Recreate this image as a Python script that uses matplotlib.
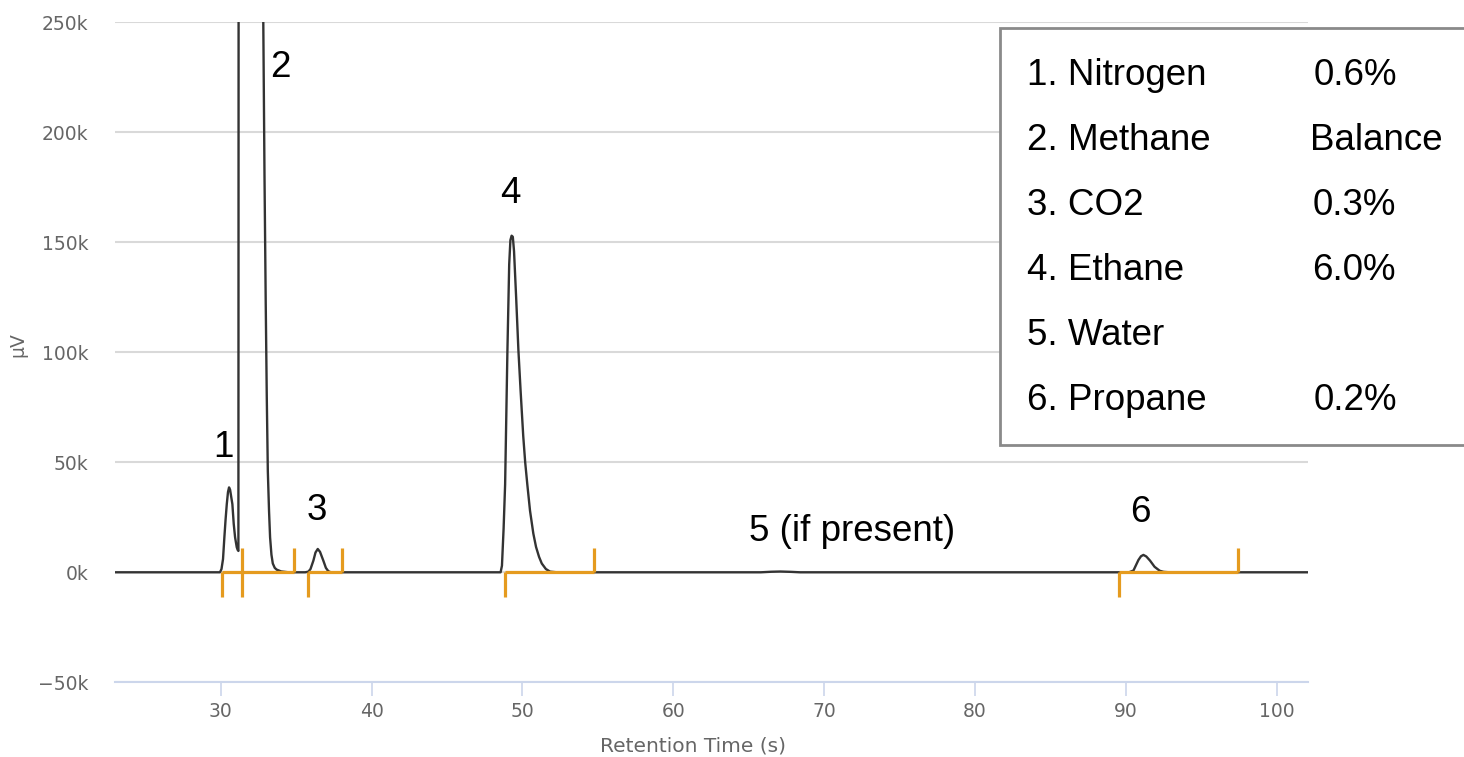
import matplotlib
matplotlib.use("Agg")
import matplotlib.pyplot as plt
from matplotlib.patches import Rectangle
from matplotlib.ticker import FuncFormatter

# Chromatogram trace (time in s, signal in µV)
trace_t = [23.0, 29.95, 30.05, 30.15, 30.24, 30.32, 30.40, 30.48, 30.55, 30.62,
           30.70, 30.77, 30.86, 30.95, 31.06, 31.12, 31.17, 31.19,
           32.70, 32.82, 32.90, 32.98, 33.05, 33.12, 33.20, 33.27, 33.36, 33.45,
           33.58, 33.71, 34.00, 34.50,
           35.60, 35.81, 35.95, 36.14, 36.28, 36.43, 36.58, 36.80, 36.97, 37.13, 37.30,
           48.55, 48.64, 48.75, 48.85, 49.00, 49.12, 49.20, 49.28, 49.36, 49.44,
           49.58, 49.73, 49.88, 50.05, 50.18, 50.32, 50.50, 50.72, 50.90, 51.10,
           51.28, 51.55, 51.83, 52.30,
           65.80, 66.50, 67.10, 67.80, 68.40,
           90.20, 90.50, 90.83, 91.00, 91.16, 91.35, 91.60, 91.90, 92.24, 92.50, 92.90,
           102.1]
trace_uv = [0, 0, 1500, 6000, 15900, 24000, 31000, 36500, 38600, 37500,
            34000, 31000, 22000, 15900, 11400, 10200, 9700, 400000,
            400000, 250000, 180000, 123000, 80000, 46000, 28000, 15900, 8000, 4000,
            2000, 1200, 400, 0,
            0, 300, 1500, 5300, 9000, 10600, 9300, 5300, 2000, 500, 0,
            0, 3000, 20000, 40000, 100000, 140000, 151000, 153000, 152500, 146000,
            125000, 101000, 82000, 62000, 50000, 40000, 28000, 17600, 11500, 7000,
            4000, 1500, 300, 0,
            0, 250, 350, 200, 0,
            0, 800, 5600, 7300, 7900, 7200, 5300, 2500, 700, 200, 0,
            0]

# Integration events (orange markers)
peak_start = [30.07, 31.39, 35.81, 48.85, 89.52]
peak_end = [31.39, 34.86, 38.02, 54.76, 97.44]
event_tick = 11000

# Peak labels
label_text = ["1", "2", "3", "4", "5 (if present)", "6"]
label_t = [30.17, 33.93, 36.36, 49.18, 71.85, 90.98]
label_uv = [52500, 225300, 23800, 167700, 14200, 23000]

# Composition table
comp_names = ["1. Nitrogen", "2. Methane", "3. CO2", "4. Ethane", "5. Water", "6. Propane"]
comp_values = ["0.6%", "Balance", "0.3%", "6.0%", "", "0.2%"]
comp_value_x = [1314, 1310, 1313, 1312, 1312, 1314]

W, H = 1464, 757
fig = plt.figure(figsize=(W / 100, H / 100), dpi=100)
ax = fig.add_axes([115 / W, 1 - 682.3 / H, (1308.3 - 115) / W, (682.3 - 22.3) / H])

ax.plot(trace_t, trace_uv, color="#333333", lw=1.7, zorder=3)

orange = "#e59b1f"
for s, e in zip(peak_start, peak_end):
    ax.plot([s, e], [0, 0], color=orange, lw=2.3, zorder=4, solid_capstyle="butt")
    ax.plot([s, s], [0, -event_tick], color=orange, lw=2.3, zorder=4, solid_capstyle="butt")
    ax.plot([e, e], [0, event_tick], color=orange, lw=2.3, zorder=4, solid_capstyle="butt")

for txt, t, v in zip(label_text, label_t, label_uv):
    ax.text(t, v, txt, ha="center", va="baseline", fontsize=26.5,
            family="Liberation Sans", color="black", zorder=5)

ax.set_xlim(22.99, 102.09)
ax.set_ylim(-50000, 250000)
ax.set_xticks(range(30, 101, 10))
ax.set_yticks(range(-50000, 250001, 50000))
ax.yaxis.set_major_formatter(FuncFormatter(
    lambda v, p: ("\u2212" if v < 0 else "") + f"{abs(int(v / 1000))}k"))

for side in ["top", "right", "left"]:
    ax.spines[side].set_visible(False)
ax.spines["bottom"].set_color("#ccd6eb")
ax.spines["bottom"].set_linewidth(1.5)
ax.spines["bottom"].set_zorder(2)

ax.tick_params(axis="x", colors="#ccd6eb", length=10, width=1.2, pad=4.5,
               labelcolor="#666666", labelsize=13.5)
ax.tick_params(axis="y", length=0, pad=19, labelcolor="#666666", labelsize=13.5)
ax.grid(axis="y", color="#d9d9d9", lw=1.5)
ax.set_axisbelow(True)

fig.text(693 / W, 1 - 746 / H, "Retention Time (s)", ha="center", va="center",
         fontsize=14.5, color="#666666")
fig.text(18 / W, 1 - 345 / H, "µV", ha="center", va="center", rotation=90,
         fontsize=13.5, color="#666666")

# Composition box, running off the right edge
box = Rectangle((1000 / W, 1 - 445 / H), 0.5, (445 - 28.3) / H, transform=fig.transFigure,
                facecolor="white", edgecolor="#8a8a8a", lw=2, zorder=10)
fig.add_artist(box)
for i, (name, val, vx) in enumerate(zip(comp_names, comp_values, comp_value_x)):
    yb = 1 - (85 + 65 * i) / H
    fig.text(1027 / W, yb, name, ha="left", va="baseline", fontsize=26.5,
             family="Liberation Sans", color="black", zorder=11)
    if val:
        fig.text(vx / W, yb, val, ha="left", va="baseline", fontsize=26.5,
                 family="Liberation Sans", color="black", zorder=11)

fig.savefig("out.png", dpi=100)
